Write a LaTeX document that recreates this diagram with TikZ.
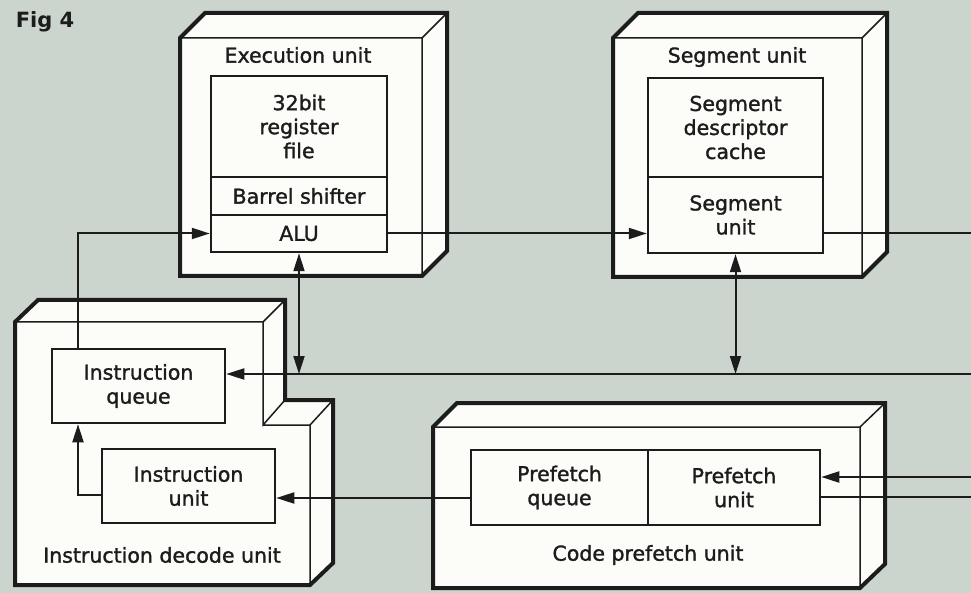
\documentclass[tikz,border=0pt]{standalone}
\usepackage{fontspec}
\setmainfont{DejaVu Sans}
\newfontfamily\unitfont[FakeBold=1.4]{DejaVu Sans}
\usetikzlibrary{arrows.meta}
\definecolor{paper}{RGB}{204,213,205}
\definecolor{ink}{RGB}{28,28,28}
\definecolor{face}{RGB}{252,252,249}
\begin{document}
\begin{tikzpicture}[x=1pt,y=-1pt,
  casing/.style={draw=ink,line width=4pt,line join=miter,fill=face},
  faceedge/.style={draw=ink,line width=1.5pt},
  part/.style={draw=ink,fill=face,line width=2.5pt,align=center,inner sep=0pt,
    font=\unitfont\fontsize{20.5}{24}\selectfont,text=ink},
  caption/.style={font=\unitfont\fontsize{20.5}{24}\selectfont,text=ink,inner sep=0pt},
  wire/.style={draw=ink,line width=2pt},
  tip/.style={-{Triangle[length=18pt,width=11pt]}},
  tips/.style={{Triangle[length=18pt,width=11pt]}-{Triangle[length=18pt,width=11pt]}}]

% paper
\fill[paper] (0,0) rectangle (971,593);
\useasboundingbox (0,0) rectangle (971,593);

\node[caption,font=\bfseries\fontsize{21}{24}\selectfont] (fig) at (45,22) {Fig 4};

% ---- Execution unit casing
\draw[casing] (180,38) -- (205,13) -- (447,13) -- (447,251) -- (422,276) -- (180,276) -- cycle;
\draw[faceedge] (180,38) -- (422,38) -- (447,13) (422,38) -- (422,276);
\node[caption] (eulabel) at (298,55) {Execution unit};
\node[part,minimum width=176pt,minimum height=101pt] (regs) at (299,126.5) {32bit\\register\\file};
\node[part,minimum width=176pt,minimum height=38pt] (barrel) at (299,196) {Barrel shifter};
\node[part,minimum width=176pt,minimum height=37pt] (alu) at (299,233.5) {ALU};

% ---- Segment unit casing
\draw[casing] (613,38) -- (638,13) -- (887,13) -- (887,252) -- (862,277) -- (613,277) -- cycle;
\draw[faceedge] (613,38) -- (862,38) -- (887,13) (862,38) -- (862,277);
\node[caption] (sulabel) at (737,57) {Segment unit};
\node[part,minimum width=175pt,minimum height=99pt] (cache) at (735.5,127.5) {Segment\\descriptor\\cache};
\node[part,minimum width=175pt,minimum height=76pt] (seg) at (735.5,215) {Segment\\unit};

% ---- Instruction decode unit casing (stepped)
\draw[casing] (15,322) -- (38,300) -- (285,300) -- (285,400) -- (333,400) -- (333,563) -- (310,585) -- (15,585) -- cycle;
\draw[faceedge] (15,322) -- (263,322) -- (285,300)
  (263,322) -- (263,425) -- (285,400)
  (263,425) -- (310,425) -- (333,400)
  (310,425) -- (310,585);
\node[caption] (idlabel) at (162,555) {Instruction decode unit};
\node[part,minimum width=173pt,minimum height=74pt] (iq) at (138.5,386) {Instruction\\queue};
\node[part,minimum width=173pt,minimum height=74pt] (iu) at (188.5,486) {Instruction\\unit};

% ---- Code prefetch unit casing
\draw[casing] (433,427) -- (457,403) -- (885,403) -- (885,564) -- (860,588) -- (433,588) -- cycle;
\draw[faceedge] (433,427) -- (860,427) -- (885,403) (860,427) -- (860,588);
\node[caption] (cplabel) at (648,555) {Code prefetch unit};
\node[part,minimum width=177pt,minimum height=75pt] (pq) at (559.5,487.5) {Prefetch\\queue};
\node[part,minimum width=172pt,minimum height=75pt] (pu) at (734,487.5) {Prefetch\\unit};

% ---- bus junctions and off-page ends
\coordinate (edge) at (971,0);
\coordinate (busE) at (971,374);
\coordinate (aluBus) at (alu.south |- busE);
\coordinate (segBus) at (seg.south |- busE);
\coordinate (segOut) at (alu.east -| edge);
\coordinate (pfIn) at (971,477);
\coordinate (pfOut) at (971,497);
\coordinate (iqUp) at ([xshift=-60.5pt]iq.north);

% ---- connectors
\draw[wire,tip] (iqUp) |- (alu.west);
\draw[wire,tip] (alu.east) -- (alu.east -| seg.west);
\draw[wire] (alu.east -| seg.east) -- (segOut);
\draw[wire,tips] (alu.south) -- (aluBus);
\draw[wire,tips] (seg.south) -- (segBus);
\draw[wire,tip] (busE) -- (busE -| iq.east);
\draw[wire,tip] ([yshift=-9pt]iu.west) -| (iqUp |- iq.south);
\draw[wire,tip] ([yshift=-10.5pt]pq.west) -- ([yshift=-10.5pt]pq.west -| iu.east);
\draw[wire,tip] (pfIn) -- (pfIn -| pu.east);
\draw[wire] (pfOut -| pu.east) -- (pfOut);
\end{tikzpicture}
\end{document}
